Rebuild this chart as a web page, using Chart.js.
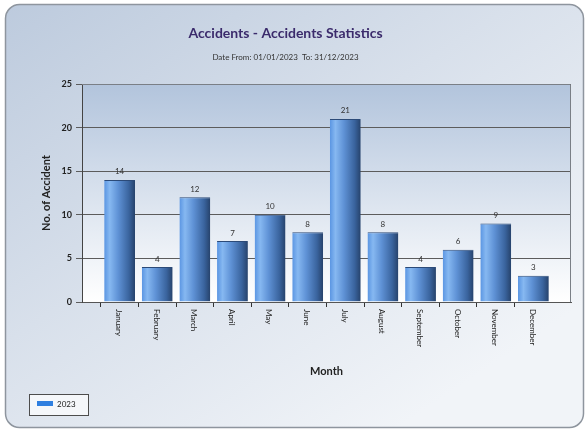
<!DOCTYPE html>
<html>
<head>
<meta charset="utf-8">
<title>Accidents Statistics</title>
<script src="https://cdn.jsdelivr.net/npm/chart.js@4.4.0/dist/chart.umd.min.js"></script>
<style>
  html, body { margin: 0; padding: 0; background: #fff; }
  #wrap { position: relative; width: 587px; height: 430px; }
</style>
</head>
<body>
<div id="wrap"><canvas id="accidentsChart"></canvas></div>
<script>
const months = ['January', 'February', 'March', 'April', 'May', 'June',
  'July', 'August', 'September', 'October', 'November', 'December'];
const accidents = [14, 4, 12, 7, 10, 8, 21, 8, 4, 6, 9, 3];
const seriesLabel = '2023';
const yMax = 25;
const yStep = 5;

const BAR_PCT = 0.82;
const FONT = 'Lato, "DejaVu Sans", sans-serif';

// bar fill: light on the left, dark navy on the right
const barFill = (c) => {
  const chart = c.chart;
  const xs = chart.scales.x;
  if (!chart.chartArea || !xs || c.dataIndex === undefined) return '#4a7fc8';
  const cx = xs.getPixelForValue(c.dataIndex);
  const half = (xs.getPixelForValue(1) - xs.getPixelForValue(0)) * BAR_PCT / 2;
  const g = chart.ctx.createLinearGradient(cx - half, 0, cx + half, 0);
  g.addColorStop(0, '#5a95e2');
  g.addColorStop(0.18, '#86b8f1');
  g.addColorStop(0.45, '#5f92d6');
  g.addColorStop(0.8, '#3a649e');
  g.addColorStop(1, '#26426b');
  return g;
};

// outer panel and plot background
const panelBackground = {
  id: 'panelBackground',
  beforeDraw(chart) {
    const { ctx, chartArea: a } = chart;
    ctx.save();
    const g = ctx.createLinearGradient(0, 0, 320, 480);
    g.addColorStop(0, '#bccadd');
    g.addColorStop(0.5, '#d8e0eb');
    g.addColorStop(1, '#f1f4f8');
    ctx.beginPath();
    ctx.roundRect(5.5, 4.5, 578, 423, 14);
    ctx.fillStyle = g;
    ctx.fill();
    ctx.lineWidth = 1.5;
    ctx.strokeStyle = '#8e959e';
    ctx.stroke();

    const pg = ctx.createLinearGradient(0, a.top, 0, a.bottom);
    pg.addColorStop(0, '#b2c4dc');
    pg.addColorStop(1, '#ffffff');
    ctx.fillStyle = pg;
    ctx.fillRect(a.left, a.top, a.width, a.height);
    ctx.restore();
  },
  afterDatasetsDraw(chart) {
    const { ctx, chartArea: a } = chart;
    ctx.save();
    ctx.strokeStyle = '#7a7f86';
    ctx.lineWidth = 1;
    ctx.beginPath();
    ctx.moveTo(a.left, a.top + 0.5);
    ctx.lineTo(a.right - 0.5, a.top + 0.5);
    ctx.lineTo(a.right - 0.5, a.bottom);
    ctx.stroke();
    ctx.restore();
  }
};

// numbers above the bars
const valueLabels = {
  id: 'valueLabels',
  afterDatasetsDraw(chart) {
    const { ctx } = chart;
    const meta = chart.getDatasetMeta(0);
    ctx.save();
    ctx.font = '8px ' + FONT;
    ctx.fillStyle = '#333';
    ctx.textAlign = 'center';
    ctx.textBaseline = 'bottom';
    meta.data.forEach((bar, i) => {
      ctx.fillText(String(accidents[i]), bar.x, bar.y - 4);
    });
    ctx.restore();
  }
};

// month names, turned to read top to bottom
const monthLabels = {
  id: 'monthLabels',
  afterDraw(chart) {
    const { ctx, chartArea } = chart;
    const xs = chart.scales.x;
    ctx.save();
    ctx.font = '8px ' + FONT;
    ctx.fillStyle = '#222';
    ctx.textAlign = 'left';
    ctx.textBaseline = 'middle';
    months.forEach((m, i) => {
      ctx.save();
      ctx.translate(xs.getPixelForValue(i) - 1, chartArea.bottom + 7);
      ctx.rotate(Math.PI / 2);
      ctx.fillText(m, 0, 0);
      ctx.restore();
    });
    ctx.restore();
  }
};

// boxed legend in the lower left corner
const boxLegend = {
  id: 'boxLegend',
  afterDraw(chart) {
    const { ctx } = chart;
    const ds = chart.data.datasets[0];
    ctx.save();
    ctx.fillStyle = '#f5f7fa';
    ctx.fillRect(29.5, 394.5, 59, 21);
    ctx.strokeStyle = '#4d4d4d';
    ctx.lineWidth = 1;
    ctx.strokeRect(29.5, 394.5, 59, 21);
    ctx.fillStyle = '#2f7fe0';
    ctx.fillRect(37, 401, 16, 5);
    ctx.fillStyle = '#222';
    ctx.font = '8px ' + FONT;
    ctx.textBaseline = 'middle';
    ctx.fillText(ds.label, 57, 404);
    ctx.restore();
  }
};

new Chart(document.getElementById('accidentsChart'), {
  type: 'bar',
  data: {
    labels: months.map((m, i) => i),
    datasets: [
      {
        label: seriesLabel,
        data: accidents,
        backgroundColor: barFill,
        borderColor: '#2b4a78',
        borderWidth: { top: 1, left: 0, right: 0, bottom: 0 },
        barPercentage: BAR_PCT,
        categoryPercentage: 1,
      },
    ],
  },
  options: {
    responsive: true,
    maintainAspectRatio: false,
    animation: false,
    layout: { padding: { top: 0, right: 16, bottom: 0, left: 0 } },
    plugins: {
      legend: { display: false },
      tooltip: { enabled: false },
      title: {
        display: true,
        text: 'Accidents - Accidents Statistics',
        color: '#3b2b6c',
        font: { family: FONT, size: 14, weight: 'bold' },
        padding: { top: 25, bottom: 10 },
      },
      subtitle: {
        display: true,
        text: 'Date From: 01/01/2023  To: 31/12/2023',
        color: '#333',
        font: { family: FONT, size: 8 },
        padding: { top: 1, bottom: 21.6 },
      },
    },
    scales: {
      x: {
        type: 'linear',
        min: -1,
        max: 12,
        offset: false,
        ticks: { display: false, stepSize: 1 },
        grid: {
          drawOnChartArea: false,
          drawTicks: true,
          tickLength: 5,
          color: (c) => (c.tick && c.tick.value >= 0 && c.tick.value < months.length) ? '#333' : 'rgba(0,0,0,0)',
        },
        border: { color: '#555' },
        title: {
          display: true,
          text: 'Month',
          color: '#222',
          font: { family: FONT, size: 11, weight: 'bold' },
          padding: { top: 0, bottom: 52 },
        },
        afterFit(scale) { scale.height = 128; },
      },
      y: {
        min: 0,
        max: yMax,
        ticks: {
          stepSize: yStep,
          color: '#222',
          padding: 4,
          font: { family: FONT, size: 9, weight: 'bold' },
        },
        grid: { color: '#5c5c5c', tickLength: 6, drawTicks: true },
        border: { color: '#444' },
        title: {
          display: true,
          text: 'No. of Accident',
          color: '#222',
          font: { family: FONT, size: 11, weight: 'bold' },
          padding: { top: 40 },
        },
        afterFit(scale) { scale.width = 82; },
      },
    },
  },
  plugins: [panelBackground, valueLabels, monthLabels, boxLegend],
});
</script>
</body>
</html>
